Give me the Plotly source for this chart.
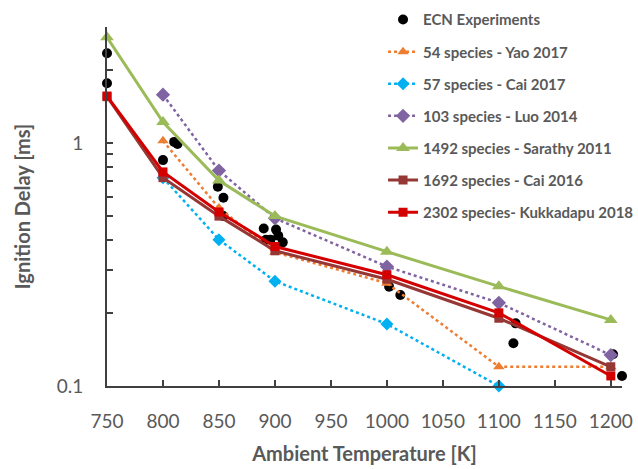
import math
import plotly.graph_objects as go

# ---- data ----
T_model = [750, 800, 850, 900, 1000, 1100, 1200]

exp_T = [750, 750, 800, 810, 813, 849, 854, 854, 890, 892, 896, 901, 903, 907,
         1002, 1012, 1113, 1115, 1202, 1210]
exp_tau = [2.34, 1.76, 0.85, 1.01, 0.99, 0.66, 0.595, 0.50, 0.445, 0.40, 0.40, 0.44, 0.415, 0.39,
           0.256, 0.237, 0.15, 0.181, 0.135, 0.11]

yao_T = [800, 850, 900, 1000, 1100, 1200]
yao = [1.02, 0.54, 0.355, 0.265, 0.12, 0.12]

cai17_T = [800, 850, 900, 1000, 1100]
cai17 = [0.72, 0.40, 0.27, 0.18, 0.10]

luo_T = [800, 850, 900, 1000, 1100, 1200]
luo = [1.58, 0.77, 0.49, 0.31, 0.22, 0.134]

sarathy = [2.72, 1.22, 0.70, 0.50, 0.357, 0.257, 0.187]
cai16 = [1.55, 0.72, 0.50, 0.36, 0.275, 0.19, 0.12]
kukk = [1.56, 0.76, 0.52, 0.375, 0.287, 0.20, 0.11]

x_ticks = [750, 800, 850, 900, 950, 1000, 1050, 1100, 1150, 1200]
y_ticks = [0.1, 0.2, 0.3, 0.4, 0.5, 0.6, 0.7, 0.8, 0.9, 1, 2, 3]
y_ticktext = ["0.1", "", "", "", "", "", "", "", "", "1", "", ""]

names = ["ECN Experiments", "54 species - Yao 2017", "57 species - Cai 2017",
         "103 species - Luo 2014", "1492 species - Sarathy 2011",
         "1692 species - Cai 2016", "2302 species- Kukkadapu 2018"]

GRAY = "#595959"
FONT = "Lato"

fig = go.Figure()

fig.add_trace(go.Scatter(x=exp_T, y=exp_tau, mode="markers", name=names[0],
                         marker=dict(color="black", size=10, symbol="circle"),
                         legendgroup="g0", cliponaxis=False))
fig.add_trace(go.Scatter(x=yao_T, y=yao, mode="lines+markers", name=names[1],
                         line=dict(color="#ED7D31", width=2.5, dash="dot"),
                         marker=dict(symbol="triangle-up", size=10, color="#ED7D31"),
                         legendgroup="g1", cliponaxis=False))
fig.add_trace(go.Scatter(x=cai17_T, y=cai17, mode="lines+markers", name=names[2],
                         line=dict(color="#00B0F0", width=2.5, dash="dot"),
                         marker=dict(symbol="diamond", size=10, color="#00B0F0"),
                         legendgroup="g2", cliponaxis=False))
fig.add_trace(go.Scatter(x=luo_T, y=luo, mode="lines+markers", name=names[3],
                         line=dict(color="#8064A2", width=2.5, dash="dot"),
                         marker=dict(symbol="diamond", size=11, color="#8064A2"),
                         legendgroup="g3", cliponaxis=False))
fig.add_trace(go.Scatter(x=T_model, y=sarathy, mode="lines+markers", name=names[4],
                         line=dict(color="#9BBB59", width=3),
                         marker=dict(symbol="triangle-up", size=12, color="#9BBB59"),
                         legendgroup="g4", cliponaxis=False))
fig.add_trace(go.Scatter(x=T_model, y=cai16, mode="lines+markers", name=names[5],
                         line=dict(color="#953735", width=3),
                         marker=dict(symbol="square", size=9, color="#953735"),
                         legendgroup="g5", cliponaxis=False))
fig.add_trace(go.Scatter(x=T_model, y=kukk, mode="lines+markers", name=names[6],
                         line=dict(color="#D40000", width=3),
                         marker=dict(symbol="square", size=9, color="#D40000"),
                         legendgroup="g6", cliponaxis=False))

fig.update_layout(
    width=638, height=469,
    margin=dict(l=107, r=16, t=27, b=83, autoexpand=False),
    paper_bgcolor="white", plot_bgcolor="white",
    font=dict(family=FONT, color=GRAY),
    legend=dict(x=0.536, y=1.066, xanchor="left", yanchor="top",
                font=dict(family=FONT, size=15, color=GRAY, weight="bold"),
                bgcolor="rgba(0,0,0,0)", tracegroupgap=9.6, traceorder="grouped",
                itemwidth=30),
    xaxis=dict(range=[750, 1210], tickvals=x_ticks, ticks="inside", ticklen=6,
               tickwidth=2, tickcolor="#404040", showline=True, linecolor="#404040",
               linewidth=2, showgrid=False, zeroline=False, automargin=False,
               tickangle=0,
               tickfont=dict(family=FONT, size=19, color=GRAY),
               ticklabelstandoff=17,
               title=dict(text="Ambient Temperature [K]", standoff=16,
                          font=dict(family=FONT, size=20, color=GRAY, weight="bold"))),
    yaxis=dict(type="log", range=[-1, math.log10(3)], tickvals=y_ticks, ticktext=y_ticktext,
               ticks="inside", ticklen=6, tickwidth=2, tickcolor="#404040",
               showline=True, linecolor="#404040", linewidth=2, showgrid=False,
               zeroline=False, automargin=False, tickfont=dict(family=FONT, size=19, color=GRAY),
               ticklabelstandoff=18,
               title=dict(text="Ignition Delay [ms]", standoff=21,
                          font=dict(family=FONT, size=20, color=GRAY, weight="bold"))),
)

fig.write_html("out.html")
